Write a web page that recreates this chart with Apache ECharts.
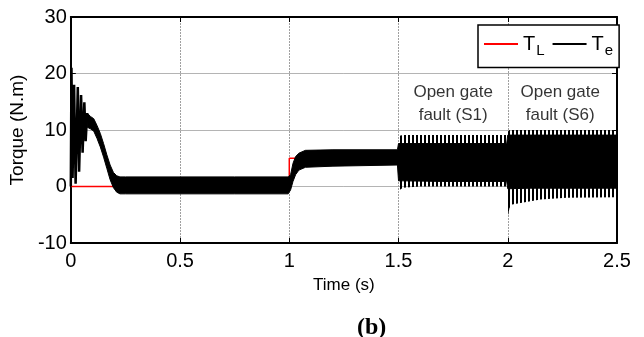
<!DOCTYPE html>
<html>
<head>
<meta charset="utf-8">
<script src="https://cdn.jsdelivr.net/npm/echarts@6/dist/echarts.min.js"></script>
<style>
  html, body { margin: 0; padding: 0; background: #fff; }
  #chart { width: 644px; height: 337px; }
</style>
</head>
<body>
<div id="chart"></div>
<script>
// load torque T_L (step at 1 s)
const tlTime = [0, 1, 1, 2.5];
const tlValue = [0, 0, 5, 5];

// start-up transient of T_e, peaks and troughs
const teStartTime = [0, 0.003, 0.008, 0.015, 0.022, 0.032, 0.038, 0.047, 0.054, 0.062, 0.068, 0.075];
const teStartValue = [0, 21, 1.5, 18, 0.5, 17.6, 2.6, 16.2, 6, 14.9, 8, 13];

// dense (solid) part of the T_e ripple, lower / upper edge
const teBandTime = [0.075, 0.09, 0.105, 0.12, 0.135, 0.15, 0.165, 0.18, 0.195, 0.21, 0.225, 0.25, 0.5, 0.75, 0.995,
  1.006, 1.017, 1.029, 1.044, 1.074, 1.2, 1.495, 1.5, 1.52, 1.7, 1.995, 2.0, 2.1, 2.3, 2.5];
const teBandUpper = [13, 12.4, 12, 10.8, 9.4, 7.6, 5.6, 3.8, 2.5, 1.9, 1.7, 1.7, 1.7, 1.7, 1.7,
  2.1, 4.1, 5.3, 5.9, 6.4, 6.5, 6.5, 7.6, 7.6, 7.6, 7.6, 9.1, 9.1, 9.1, 9.1];
const teBandLower = [10.5, 10.2, 9.8, 8.5, 7, 5.2, 3.2, 1.2, -0.2, -1.0, -1.3, -1.3, -1.3, -1.3, -1.3,
  -0.6, 0.9, 2.1, 2.9, 3.4, 3.6, 3.8, 1.0, 1.0, 0.9, 0.9, -0.4, -0.3, -0.3, -0.3];

// spiky outer envelope during the open gate faults
const faultTime = [1.5, 1.505, 1.52, 1.6, 1.8, 1.995, 2.0, 2.008, 2.02, 2.15, 2.27, 2.5];
const faultUpper = [7.9, 9, 9.1, 9.1, 9.1, 9.1, 9.7, 10, 10, 10, 10, 10];
const faultLower = [-3.2, -0.6, -0.2, 0, 0, 0, -5.3, -3.8, -3.2, -2.3, -2.0, -1.9];

const xTicks = [0, 0.5, 1, 1.5, 2, 2.5];
const yTicks = [-10, 0, 10, 20, 30];
const noteText = ['Open gate\nfault (S1)', 'Open gate\nfault (S6)'];
const noteTime = [1.75, 2.24];
const noteValue = [14.7, 14.7];

const font = 'Liberation Sans, Arial, sans-serif';

const zip = (xs, ys) => xs.map((x, i) => [x, ys[i]]);

// vertical hatch to imitate the switching spikes
const hatch = document.createElement('canvas');
hatch.width = 4;
hatch.height = 1;
const hctx = hatch.getContext('2d');
hctx.fillStyle = '#000';
hctx.fillRect(0, 0, 2, 1);

// band between a lower and an upper edge, mapped through the axes
const bandSeries = (name, times, lower, upper, style) => ({
  name,
  type: 'custom',
  z: 3,
  data: [[times[0], lower[0]]],
  encode: { x: 0, y: 1 },
  silent: true,
  renderItem: (params, api) => {
    const top = times.map((t, i) => api.coord([t, upper[i]]));
    const bottom = times.map((t, i) => api.coord([t, lower[i]])).reverse();
    return {
      type: 'polygon',
      shape: { points: top.concat(bottom) },
      style,
    };
  },
});

const chart = echarts.init(document.getElementById('chart'));

const frameLine = { show: true, onZero: false, lineStyle: { color: '#000', width: 2 } };
const frameTick = { show: true, inside: true, length: 5, lineStyle: { color: '#000', width: 1 } };

chart.setOption({
  animation: false,
  title: {
    text: '(b)',
    left: 352,
    top: 311,
    textStyle: { fontFamily: 'Liberation Serif, Times New Roman, serif', fontWeight: 'bold', fontSize: 24, color: '#000' },
  },
  legend: {
    left: 478,
    top: 25,
    padding: [9, 6, 9, 6],
    itemGap: 8,
    itemWidth: 34,
    itemHeight: 2,
    icon: 'rect',
    borderColor: '#000',
    borderWidth: 1.5,
    backgroundColor: '#fff',
    data: [
      { name: 'TL', itemStyle: { color: '#ff0000' } },
      { name: 'Te', itemStyle: { color: '#000' } },
    ],
    formatter: (name) => (name === 'TL' ? '{t|T}{s|L}' : '{t|T}{s|e}'),
    textStyle: {
      rich: {
        t: { fontFamily: font, fontSize: 20, color: '#000' },
        s: { fontFamily: font, fontSize: 15, color: '#000', padding: [14, 0, 0, 1] },
      },
    },
  },
  grid: { left: 67, right: 27, top: 17, bottom: 94 },
  xAxis: [
    {
      type: 'value',
      min: 0,
      max: 2.5,
      interval: 0.5,
      axisLine: frameLine,
      axisTick: frameTick,
      name: 'Time (s)',
      nameLocation: 'middle',
      nameGap: 34,
      nameTextStyle: { fontFamily: font, fontSize: 17, color: '#000' },
      axisLabel: {
        margin: 8,
        fontFamily: font,
        fontSize: 20,
        color: '#000',
        formatter: (v) => (xTicks.includes(v) ? String(v) : ''),
      },
      splitLine: { show: true, lineStyle: { color: '#a0a0a0', width: 1, type: [2, 1] } },
    },
    {
      type: 'value',
      position: 'top',
      min: 0,
      max: 2.5,
      interval: 0.5,
      axisLine: frameLine,
      axisTick: frameTick,
      axisLabel: { show: false },
      splitLine: { show: false },
    },
  ],
  yAxis: [
    {
      type: 'value',
      min: -10,
      max: 30,
      interval: 10,
      name: 'Torque (N.m)',
      nameLocation: 'middle',
      nameGap: 36,
      nameTextStyle: { fontFamily: font, fontSize: 19, color: '#000' },
      axisLine: frameLine,
      axisTick: frameTick,
      axisLabel: {
        margin: 4,
        fontFamily: font,
        fontSize: 20,
        color: '#000',
        formatter: (v) => (yTicks.includes(v) ? String(v) : ''),
      },
      splitLine: { show: true, lineStyle: { color: '#b4b4b4', width: 1 } },
    },
    {
      type: 'value',
      min: -10,
      max: 30,
      interval: 10,
      position: 'right',
      axisLine: frameLine,
      axisTick: frameTick,
      axisLabel: { show: false },
      splitLine: { show: false },
    },
  ],
  series: [
    {
      name: 'TL',
      type: 'line',
      z: 1,
      data: zip(tlTime, tlValue),
      showSymbol: false,
      color: '#ff0000',
      lineStyle: { color: '#ff0000', width: 1.5 },
    },
    bandSeries('faultSpikes', faultTime, faultLower, faultUpper, {
      fill: { image: hatch, repeat: 'repeat' },
    }),
    bandSeries('band', teBandTime, teBandLower, teBandUpper, {
      fill: '#000',
      stroke: '#000',
      lineWidth: 1,
    }),
    {
      name: 'Te',
      type: 'line',
      z: 4,
      data: zip(teStartTime, teStartValue),
      showSymbol: false,
      color: '#000',
      lineStyle: { color: '#000', width: 2.5 },
    },
    {
      name: 'notes',
      type: 'scatter',
      z: 5,
      data: noteTime.map((t, i) => ({ value: [t, noteValue[i]], name: noteText[i] })),
      symbolSize: 0,
      silent: true,
      label: {
        show: true,
        position: 'inside',
        formatter: (p) => p.name,
        fontFamily: font,
        fontSize: 17,
        lineHeight: 23,
        color: '#000',
        align: 'center',
      },
    },
  ],
});
</script>
</body>
</html>
